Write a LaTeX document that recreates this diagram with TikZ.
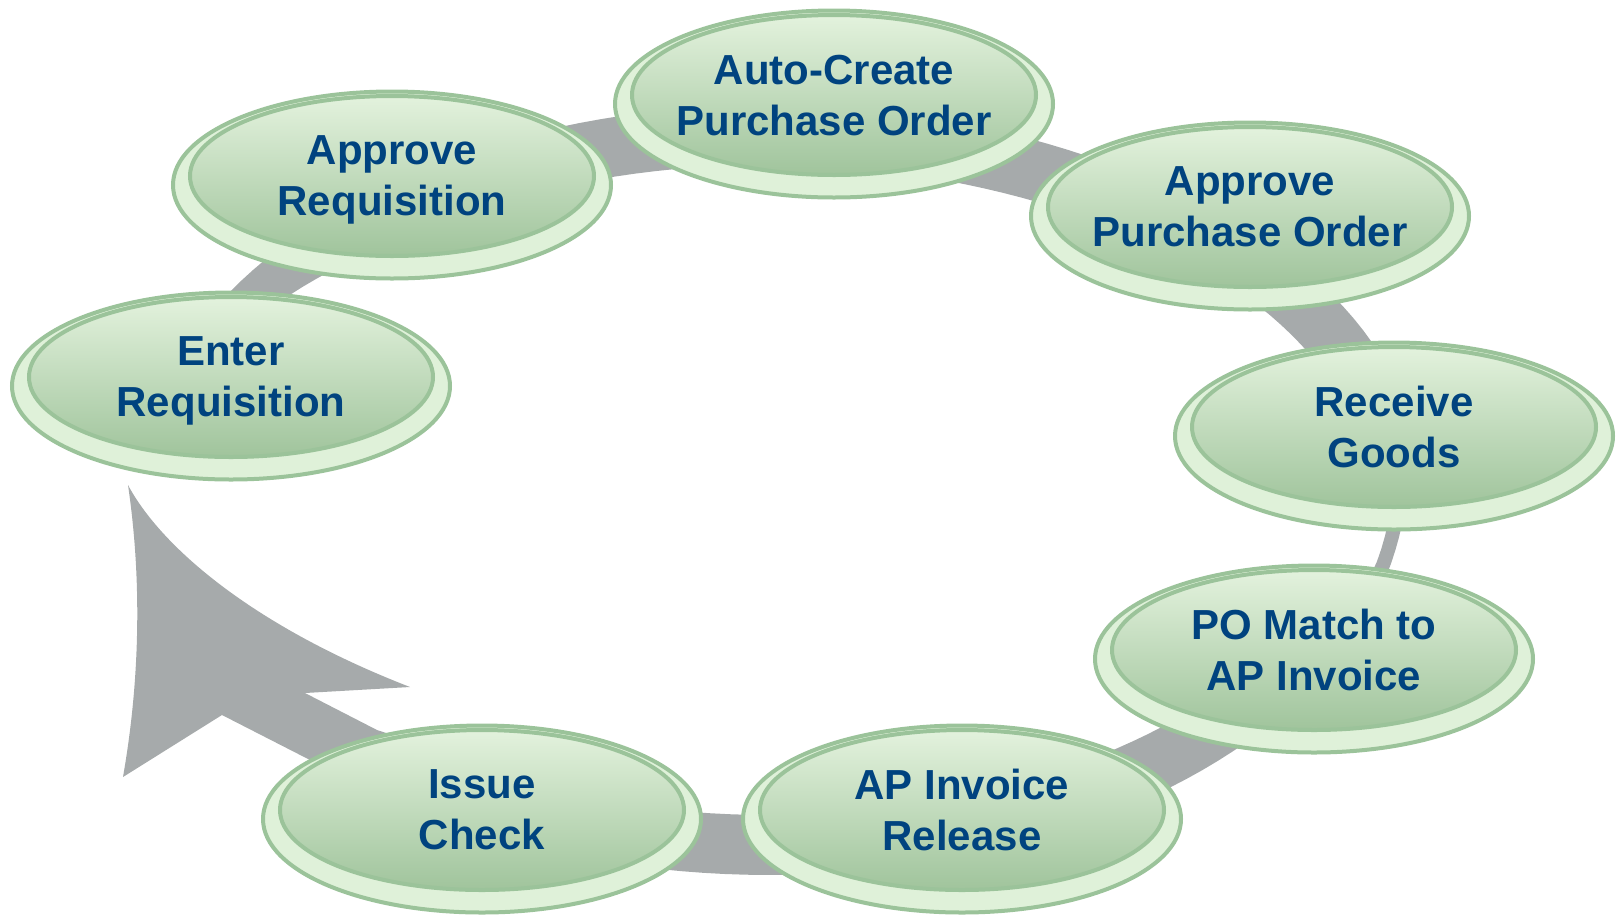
\documentclass[tikz,border=0pt]{standalone}
\usepackage{fontspec}
\setmainfont{Liberation Sans}
\usetikzlibrary{shapes.geometric}
\definecolor{ringgreen}{RGB}{155,195,154}
\definecolor{baselight}{RGB}{223,241,217}
\definecolor{disctop}{RGB}{227,242,221}
\definecolor{discbottom}{RGB}{160,196,156}
\definecolor{textblue}{RGB}{0,67,127}
\definecolor{cyclegrey}{RGB}{166,170,171}
\tikzset{
    base/.style = {
        draw=ringgreen,
        shape=ellipse,
        fill=baselight,
        minimum width=438pt,
        minimum height=187pt,
        inner sep=0pt,
        line width=4pt
    },
    disc/.style = {
        draw=ringgreen,
        shape=ellipse,
        top color=disctop,
        bottom color=discbottom,
        minimum width=404pt,
        minimum height=160pt,
        inner sep=0pt,
        line width=4pt
    },
    phase/.style = {
        text=textblue,
        font=\bfseries\fontsize{42}{51}\selectfont,
        align=center,
        text depth=0pt,
        inner sep=0pt
    },
    ring/.style = {
        fill=cyclegrey
    },
    declare function={
        bandr(\t) = 630 + 22/(1+(min(abs(\t-330),150)/25)^4);
        bandw(\t) = 60 - 22/(1+(min(abs(\t-195),150)/25)^4)
                       - 46/(1+(min(abs(\t-368),110)/14)^4);
    }
}

\begin{document}
\begin{tikzpicture}[x=1pt, y=-1pt]
            \useasboundingbox (0,0) rectangle (1619,914);

            % cycle arrow behind the steps
            \coordinate (tip) at (128,485);
            \coordinate (wing-out) at (123,777);
            \coordinate (notch-out) at (222,715);
            \coordinate (shaft-out) at (310,760);
            \coordinate (wing-in) at (410,687);
            \coordinate (notch-in) at (305,693);
            \coordinate (shaft-in) at (377,730);
            \path[ring] plot[domain=195:470, samples=140]
            ({770+bandr(\x)*cos(\x)}, {490+385*sin(\x)})
            -- (554,852) -- (shaft-out) -- (notch-out) -- (wing-out)
            .. controls (140,680) and (142,580) .. (tip)
            .. controls (160,545) and (250,625) .. (wing-in)
            -- (notch-in) -- (shaft-in) -- (575,795)
            -- plot[domain=470:195, samples=140]
            ({770+(bandr(\x)-bandw(\x))*cos(\x)}, {490+(385-bandw(\x))*sin(\x)})
            -- cycle;

            \node[base] (enter-base) at (231,386) {};
            \node[disc] (enter-disc) at ([yshift=9pt]enter-base) {};
            \node[phase] (enter) at (enter-disc) {Enter\\Requisition};

            \node[base] (appreq-base) at (392,185) {};
            \node[disc] (appreq-disc) at ([yshift=9pt]appreq-base) {};
            \node[phase] (appreq) at (appreq-disc) {Approve\\Requisition};

            \node[base] (autopo-base) at (834,104) {};
            \node[disc] (autopo-disc) at ([yshift=9pt]autopo-base) {};
            \node[phase] (autopo) at (autopo-disc) {Auto-Create\\Purchase Order};

            \node[base] (apppo-base) at (1250,216) {};
            \node[disc] (apppo-disc) at ([yshift=9pt]apppo-base) {};
            \node[phase] (apppo) at (apppo-disc) {Approve\\Purchase Order};

            \node[base] (receive-base) at (1394,436) {};
            \node[disc] (receive-disc) at ([yshift=9pt]receive-base) {};
            \node[phase] (receive) at (receive-disc) {Receive\\Goods};

            \node[base] (match-base) at (1314,659) {};
            \node[disc] (match-disc) at ([yshift=9pt]match-base) {};
            \node[phase] (match) at (match-disc) {PO Match to\\AP Invoice};

            \node[base] (release-base) at (962,819) {};
            \node[disc] (release-disc) at ([yshift=9pt]release-base) {};
            \node[phase] (release) at (release-disc) {AP Invoice\\Release};

            \node[base] (check-base) at (482,819) {};
            \node[disc] (check-disc) at ([yshift=9pt]check-base) {};
            \node[phase] (check) at (check-disc) {Issue\\Check};
        \end{tikzpicture}
\end{document}
